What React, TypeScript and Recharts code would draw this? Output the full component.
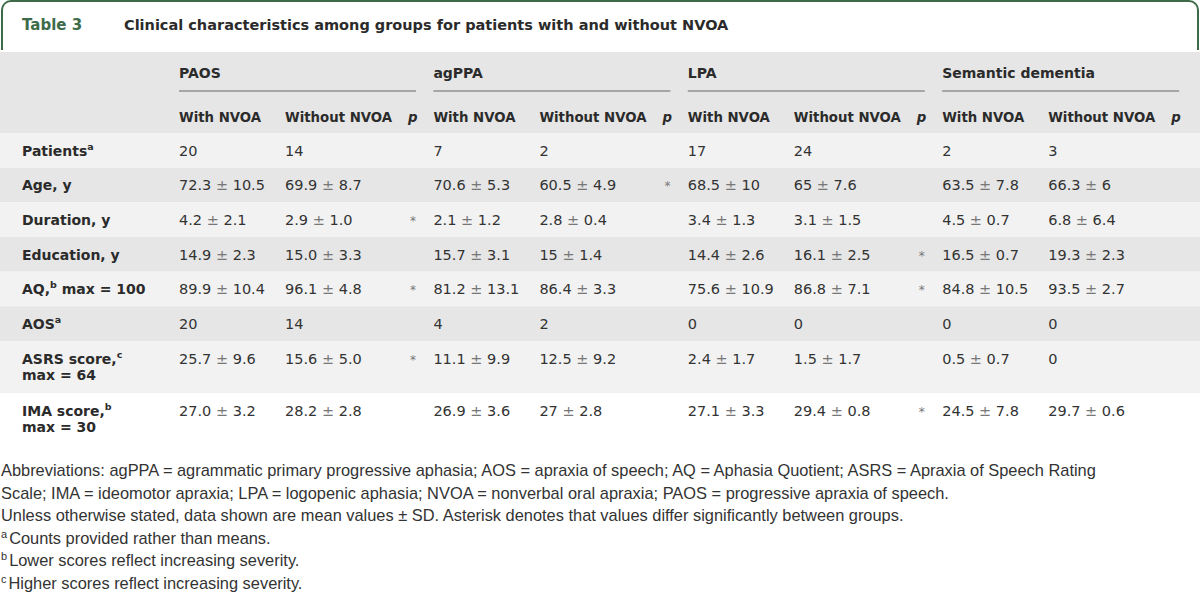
import { ScatterChart, Scatter, XAxis, YAxis, ReferenceArea, ReferenceLine } from "recharts";

type Seg = { t: string; sup?: boolean };

const tableNo = "Table 3";
const title = "Clinical characteristics among groups for patients with and without NVOA";

const groups = ["PAOS", "agPPA", "LPA", "Semantic dementia"];
const subColumns = ["With NVOA", "Without NVOA", "p"];

// each label is a list of lines, each line a list of segments
const rowLabels: Seg[][][] = [
  [[{ t: "Patients" }, { t: "a", sup: true }]],
  [[{ t: "Age, y" }]],
  [[{ t: "Duration, y" }]],
  [[{ t: "Education, y" }]],
  [[{ t: "AQ," }, { t: "b", sup: true }, { t: " max = 100" }]],
  [[{ t: "AOS" }, { t: "a", sup: true }]],
  [[{ t: "ASRS score," }, { t: "c", sup: true }], [{ t: "max = 64" }]],
  [[{ t: "IMA score," }, { t: "b", sup: true }], [{ t: "max = 30" }]],
];

const paosWith = ["20", "72.3 ± 10.5", "4.2 ± 2.1", "14.9 ± 2.3", "89.9 ± 10.4", "20", "25.7 ± 9.6", "27.0 ± 3.2"];
const paosWithout = ["14", "69.9 ± 8.7", "2.9 ± 1.0", "15.0 ± 3.3", "96.1 ± 4.8", "14", "15.6 ± 5.0", "28.2 ± 2.8"];
const paosP = ["", "", "*", "", "*", "", "*", ""];
const agppaWith = ["7", "70.6 ± 5.3", "2.1 ± 1.2", "15.7 ± 3.1", "81.2 ± 13.1", "4", "11.1 ± 9.9", "26.9 ± 3.6"];
const agppaWithout = ["2", "60.5 ± 4.9", "2.8 ± 0.4", "15 ± 1.4", "86.4 ± 3.3", "2", "12.5 ± 9.2", "27 ± 2.8"];
const agppaP = ["", "*", "", "", "", "", "", ""];
const lpaWith = ["17", "68.5 ± 10", "3.4 ± 1.3", "14.4 ± 2.6", "75.6 ± 10.9", "0", "2.4 ± 1.7", "27.1 ± 3.3"];
const lpaWithout = ["24", "65 ± 7.6", "3.1 ± 1.5", "16.1 ± 2.5", "86.8 ± 7.1", "0", "1.5 ± 1.7", "29.4 ± 0.8"];
const lpaP = ["", "", "", "*", "*", "", "", "*"];
const sdWith = ["2", "63.5 ± 7.8", "4.5 ± 0.7", "16.5 ± 0.7", "84.8 ± 10.5", "0", "0.5 ± 0.7", "24.5 ± 7.8"];
const sdWithout = ["3", "66.3 ± 6", "6.8 ± 6.4", "19.3 ± 2.3", "93.5 ± 2.7", "0", "0", "29.7 ± 0.6"];
const sdP = ["", "", "", "", "", "", "", ""];

const groupValues = [
  [paosWith, paosWithout, paosP],
  [agppaWith, agppaWithout, agppaP],
  [lpaWith, lpaWithout, lpaP],
  [sdWith, sdWithout, sdP],
];

const footnotes: Seg[][] = [
  [{ t: "Abbreviations: agPPA = agrammatic primary progressive aphasia; AOS = apraxia of speech; AQ = Aphasia Quotient; ASRS = Apraxia of Speech Rating" }],
  [{ t: "Scale; IMA = ideomotor apraxia; LPA = logopenic aphasia; NVOA = nonverbal oral apraxia; PAOS = progressive apraxia of speech." }],
  [{ t: "Unless otherwise stated, data shown are mean values ± SD. Asterisk denotes that values differ significantly between groups." }],
  [{ t: "a", sup: true }, { t: "Counts provided rather than means." }],
  [{ t: "b", sup: true }, { t: "Lower scores reflect increasing severity." }],
  [{ t: "c", sup: true }, { t: "Higher scores reflect increasing severity." }],
];

// layout
const W = 1200;
const TABLE_TOP = 52;
const TABLE_H = 393;
const LABEL_X = 22;
const FIRST_COL = 179;
const GROUP_W = 254.4;
const SUB_OFFSETS = [0, 106, 229];
const HEADER_H = 81;
const ROW_H = 34.67;
const ROW_H2 = 52;
const LINE_GAP = 16;
const DARK = "#e6e6e6";
const LIGHT = "#f2f2f2";
const INK = "#2b2b2b";
const GREEN = "#3d6b49";
const FONT = "'DejaVu Sans', sans-serif";

const rowTops: number[] = [];
rowLabels.reduce((top, lines) => {
  rowTops.push(top);
  return top + (lines.length > 1 ? ROW_H2 : ROW_H);
}, HEADER_H);
const rowHeight = (i: number) => (rowLabels[i].length > 1 ? ROW_H2 : ROW_H);
const colX = (g: number, s: number) => FIRST_COL + g * GROUP_W + SUB_OFFSETS[s];

type Cell = { x: number; y: number; kind: string; text?: string; lines?: Seg[][] };

const cells: Cell[] = [];
groups.forEach((g, gi) => {
  cells.push({ x: colX(gi, 0), y: 21, kind: "group", text: g });
  subColumns.forEach((s, si) => cells.push({ x: colX(gi, si), y: 65, kind: si === 2 ? "p" : "head", text: s }));
});
rowLabels.forEach((lines, ri) => {
  const y = rowTops[ri] + 17.5;
  cells.push({ x: LABEL_X, y, kind: "label", lines });
  groupValues.forEach((cols, gi) =>
    cols.forEach((vals, si) => {
      if (vals[ri]) cells.push({ x: colX(gi, si), y, kind: si === 2 ? "star" : "value", text: vals[ri] });
    })
  );
});

function CellText(props: any) {
  const { cx, cy, payload } = props;
  const c = payload as Cell;
  if (c.kind === "label") {
    return (
      <g>
        {c.lines!.map((line, li) => (
          <text key={li} x={cx} y={cy + 5 + li * LINE_GAP} fontFamily={FONT} fontSize={14} fontWeight={700} fill={INK}>
            {line.map((s, k) =>
              s.sup ? (
                <tspan key={k} fontSize={9.5} dy={-6}>{s.t}</tspan>
              ) : (
                <tspan key={k} dy={k > 0 && line[k - 1].sup ? 6 : undefined}>{s.t}</tspan>
              )
            )}
          </text>
        ))}
      </g>
    );
  }
  if (c.kind === "value") {
    const parts = c.text!.split("±");
    return (
      <text x={cx} y={cy + 5} fontFamily={FONT} fontSize={14.5} fill="#333">
        {parts.length > 1 ? (
          <>
            <tspan>{parts[0]}</tspan>
            <tspan fill="#777">±</tspan>
            <tspan>{parts[1]}</tspan>
          </>
        ) : (
          c.text
        )}
      </text>
    );
  }
  if (c.kind === "star") {
    return (
      <text x={cx + 2} y={cy + 5} fontFamily={FONT} fontSize={12} fill="#777">
        {c.text}
      </text>
    );
  }
  return (
    <text
      x={cx}
      y={cy + 5}
      fontFamily={FONT}
      fontSize={c.kind === "group" ? 14 : 13.3}
      fontWeight={700}
      fontStyle={c.kind === "p" ? "italic" : "normal"}
      fill={INK}
    >
      {c.text}
    </text>
  );
}

function Sup({ t }: { t: string }) {
  return <span style={{ fontSize: 11, position: "relative", top: -6, marginRight: 2, lineHeight: 0 }}>{t}</span>;
}

export default function App() {
  return (
    <div style={{ position: "absolute", left: 0, top: 0, width: W, height: 595, background: "#fff", overflow: "hidden" }}>
      <div
        style={{
          position: "absolute",
          left: 1,
          top: 0,
          width: W - 6,
          height: 48,
          border: `2px solid ${GREEN}`,
          borderBottom: "none",
          borderRadius: "10px 10px 0 0",
        }}
      />
      <div style={{ position: "absolute", left: 22, top: 16, fontFamily: FONT, fontSize: 15, fontWeight: 700, color: GREEN, lineHeight: "18px" }}>
        {tableNo}
      </div>
      <div style={{ position: "absolute", left: 124, top: 16, fontFamily: FONT, fontSize: 14.5, fontWeight: 700, color: INK, lineHeight: "18px" }}>
        {title}
      </div>
      <div style={{ position: "absolute", left: 0, top: TABLE_TOP }}>
        <ScatterChart width={W} height={TABLE_H} margin={{ top: 0, right: 0, bottom: 0, left: 0 }}>
          <XAxis type="number" dataKey="x" domain={[0, W]} hide />
          <YAxis type="number" dataKey="y" domain={[0, TABLE_H]} reversed hide />
          <ReferenceArea x1={0} x2={W} y1={0} y2={HEADER_H} fill={DARK} fillOpacity={1} stroke="none" />
          {rowTops.map((top, i) => (
            <ReferenceArea
              key={i}
              x1={0}
              x2={W}
              y1={top}
              y2={top + rowHeight(i)}
              fill={i % 2 === 0 ? LIGHT : DARK}
              fillOpacity={1}
              stroke="none"
            />
          ))}
          {groups.map((g, gi) => (
            <ReferenceLine
              key={g}
              segment={[
                { x: colX(gi, 0), y: 39 },
                { x: colX(gi, 2) + 8, y: 39 },
              ]}
              stroke="#666"
              strokeWidth={1}
            />
          ))}
          <Scatter data={cells} shape={CellText} isAnimationActive={false} />
        </ScatterChart>
      </div>
      <div
        style={{
          position: "absolute",
          left: 1,
          top: 459,
          fontFamily: "'Liberation Sans', Arial, sans-serif",
          fontSize: 16.4,
          color: "#333",
          whiteSpace: "nowrap",
        }}
      >
        {footnotes.map((line, i) => (
          <div key={i} style={{ height: 22.6, lineHeight: "22.6px" }}>
            {line.map((s, k) => (s.sup ? <Sup key={k} t={s.t} /> : <span key={k}>{s.t}</span>))}
          </div>
        ))}
      </div>
    </div>
  );
}
